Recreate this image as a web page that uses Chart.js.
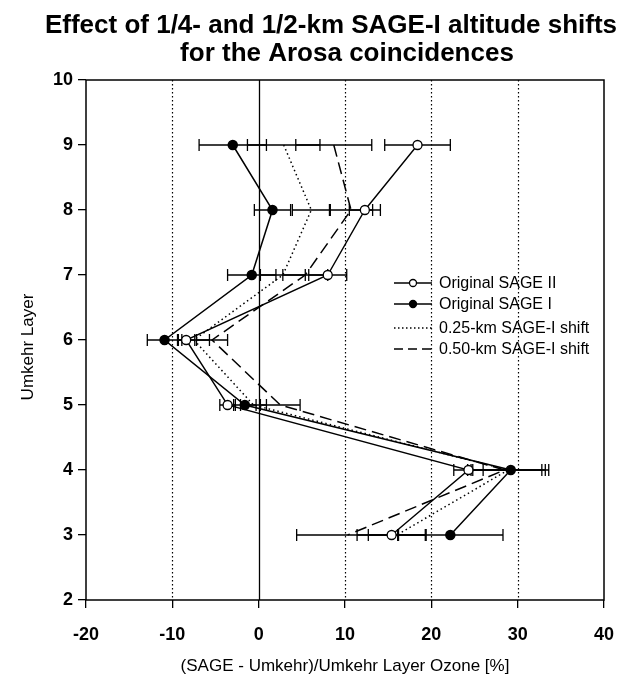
<!DOCTYPE html>
<html>
<head>
<meta charset="utf-8">
<script src="https://cdn.jsdelivr.net/npm/chart.js@4.4.1/dist/chart.umd.min.js"></script>
<style>
  html, body { margin: 0; padding: 0; background: #fff; }
</style>
</head>
<body>
<canvas id="chart" width="625" height="681"></canvas>
<script>
// Umkehr layers, top to bottom
const layers = [9, 8, 7, 6, 5, 4, 3];

// (SAGE - Umkehr)/Umkehr [%] and the half-width of each error bar
const sage2 = [18.4, 12.3, 8.0, -8.4, -3.6, 24.3, 15.4];
const sage2Err = [3.8, 1.8, 2.2, 1.0, 0.9, 1.7, 4.0];
const sage1 = [-3.0, 1.6, -0.8, -10.9, -1.6, 29.2, 22.2];
const sage1Err = [3.9, 2.1, 2.8, 2.0, 1.3, 4.4, 6.1];
const shift25 = [2.9, 6.1, 2.8, -7.5, -0.6, 28.9, 16.0];
const shift25Err = [4.2, 2.2, 2.6, 1.8, 1.5, 4.3, 3.3];
const shift50 = [8.7, 10.7, 5.4, -5.4, 2.5, 28.5, 10.3];
const shift50Err = [4.4, 2.5, 2.6, 1.8, 2.3, 4.3, 5.9];

const xTicks = [-20, -10, 0, 10, 20, 30, 40];
const yTicks = [2, 3, 4, 5, 6, 7, 8, 9, 10];

const FONT = "'Liberation Sans', Arial, sans-serif";

function points(values) {
  return values.map((v, i) => ({ x: v, y: layers[i] }));
}

const errorBars = {
  id: "errorBars",
  beforeDatasetsDraw(chart) {
    const { ctx, chartArea: a, scales: { x, y } } = chart;
    ctx.save();
    // vertical grid lines
    xTicks.forEach((t) => {
      if (t === -20 || t === 40) return;
      const px = Math.round(x.getPixelForValue(t)) + 0.5;
      ctx.beginPath();
      ctx.strokeStyle = "#000";
      if (t === 0) {
        ctx.lineWidth = 1.3;
        ctx.setLineDash([]);
      } else {
        ctx.lineWidth = 1.2;
        ctx.setLineDash([1.5, 2.5]);
      }
      ctx.moveTo(px, a.top);
      ctx.lineTo(px, a.bottom);
      ctx.stroke();
    });
    ctx.setLineDash([]);
    ctx.lineWidth = 1.3;
    chart.data.datasets.forEach((ds) => {
      if (!ds.errors) return;
      ds.data.forEach((p, i) => {
        const e = ds.errors[i];
        const x0 = x.getPixelForValue(p.x - e);
        const x1 = x.getPixelForValue(p.x + e);
        const py = y.getPixelForValue(p.y);
        ctx.beginPath();
        ctx.moveTo(x0, py);
        ctx.lineTo(x1, py);
        ctx.moveTo(x0, py - 6);
        ctx.lineTo(x0, py + 6);
        ctx.moveTo(x1, py - 6);
        ctx.lineTo(x1, py + 6);
        ctx.stroke();
      });
    });
    ctx.restore();
  },
  afterDraw(chart) {
    const { ctx, chartArea: a } = chart;
    ctx.save();
    // frame
    ctx.strokeStyle = "#000";
    ctx.lineWidth = 1.5;
    ctx.strokeRect(a.left, a.top, a.right - a.left, a.bottom - a.top);

    // title
    ctx.fillStyle = "#000";
    ctx.textAlign = "center";
    ctx.textBaseline = "alphabetic";
    ctx.font = "bold 26px " + FONT;
    ctx.fillText("Effect of 1/4- and 1/2-km SAGE-I altitude shifts", 331, 33);
    ctx.fillText("for the Arosa coincidences", 347, 61);

    // axis titles
    ctx.font = "17px " + FONT;
    ctx.textBaseline = "middle";
    ctx.fillText("(SAGE - Umkehr)/Umkehr Layer Ozone [%]", 345, 666);
    ctx.translate(28, 347);
    ctx.rotate(-Math.PI / 2);
    ctx.fillText("Umkehr Layer", 0, 0);
    ctx.setTransform(1, 0, 0, 1, 0, 0);

    // legend
    const rows = [
      { label: "Original SAGE II", y: 283, dash: [], marker: "open" },
      { label: "Original SAGE I", y: 304, dash: [], marker: "filled" },
      { label: "0.25-km SAGE-I shift", y: 328, dash: [1.5, 2.5], marker: null },
      { label: "0.50-km SAGE-I shift", y: 349, dash: [9, 5], marker: null },
    ];
    ctx.font = "16px " + FONT;
    ctx.textAlign = "left";
    rows.forEach((r) => {
      ctx.beginPath();
      ctx.setLineDash(r.dash);
      ctx.lineWidth = 1.3;
      ctx.moveTo(394, r.y);
      ctx.lineTo(432, r.y);
      ctx.stroke();
      ctx.setLineDash([]);
      if (r.marker) {
        ctx.beginPath();
        ctx.arc(413, r.y, 3.5, 0, Math.PI * 2);
        ctx.fillStyle = r.marker === "open" ? "#fff" : "#000";
        ctx.fill();
        ctx.stroke();
      }
      ctx.fillStyle = "#000";
      ctx.fillText(r.label, 439, r.y + 1);
    });
    ctx.restore();
  },
};

new Chart(document.getElementById("chart"), {
  type: "scatter",
  data: {
    datasets: [
      {
        label: "Original SAGE II",
        data: points(sage2),
        errors: sage2Err,
        showLine: true,
        borderColor: "#000",
        borderWidth: 1.4,
        pointRadius: 4.5,
        pointBackgroundColor: "#fff",
        pointBorderColor: "#000",
        pointBorderWidth: 1.3,
      },
      {
        label: "Original SAGE I",
        data: points(sage1),
        errors: sage1Err,
        showLine: true,
        borderColor: "#000",
        borderWidth: 1.5,
        pointRadius: 4.5,
        pointBackgroundColor: "#000",
        pointBorderColor: "#000",
      },
      {
        label: "0.25-km SAGE-I shift",
        data: points(shift25),
        errors: shift25Err,
        showLine: true,
        borderColor: "#000",
        borderWidth: 1.5,
        borderDash: [1.5, 3],
        pointRadius: 0,
      },
      {
        label: "0.50-km SAGE-I shift",
        data: points(shift50),
        errors: shift50Err,
        showLine: true,
        borderColor: "#000",
        borderWidth: 1.5,
        borderDash: [12, 6],
        pointRadius: 0,
      },
    ],
  },
  options: {
    responsive: false,
    animation: false,
    layout: { padding: { left: 0, top: 80, right: 21, bottom: 0 } },
    plugins: {
      legend: { display: false },
      tooltip: { enabled: false },
      title: { display: false },
    },
    scales: {
      x: {
        type: "linear",
        min: -20,
        max: 40,
        afterBuildTicks: (s) => { s.ticks = xTicks.map((v) => ({ value: v })); },
        afterFit: (s) => { s.height = 81; s.paddingLeft = 0; s.paddingRight = 0; },
        grid: { drawOnChartArea: false, drawTicks: true, tickLength: 8, color: "#000", lineWidth: 1.3 },
        border: { display: false },
        ticks: { color: "#000", font: { family: FONT, size: 18, weight: "bold" }, padding: 16 },
      },
      y: {
        type: "linear",
        min: 2,
        max: 10,
        afterBuildTicks: (s) => { s.ticks = yTicks.map((v) => ({ value: v })); },
        afterFit: (s) => { s.width = 86; s.paddingTop = 0; s.paddingBottom = 0; },
        grid: { drawOnChartArea: false, drawTicks: true, tickLength: 8, color: "#000", lineWidth: 1.3 },
        border: { display: false },
        ticks: { color: "#000", font: { family: FONT, size: 18, weight: "bold" }, padding: 5 },
      },
    },
  },
  plugins: [errorBars],
});
</script>
</body>
</html>
